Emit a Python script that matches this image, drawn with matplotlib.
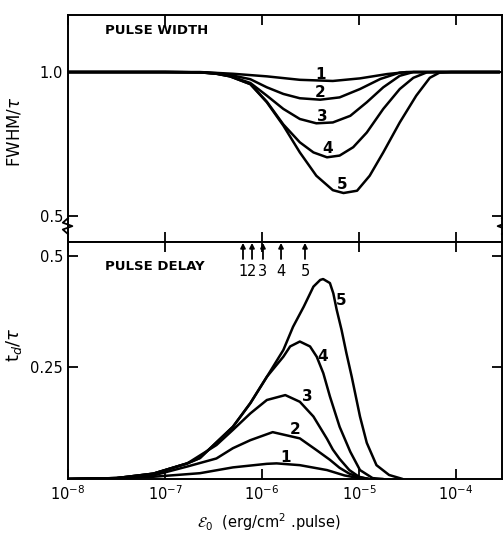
import numpy as np
import matplotlib
matplotlib.use("Agg")
import matplotlib.pyplot as plt

# ---------------- data (log10 of energy fluence, value) ----------------
# Upper panel: FWHM / tau
w_logx_1 = [-8.0, -7.0, -6.64, -6.30, -5.95, -5.61, -5.27, -4.99, -4.71, -4.51, -3.55]
w_val_1 = [1.0, 1.0, 1.0, 0.994, 0.985, 0.973, 0.969, 0.978, 0.993, 1.0, 1.0]

w_logx_2 = [-8.0, -7.0, -6.64, -6.47, -6.33, -6.12, -5.95, -5.78, -5.61, -5.40, -5.20, -4.99, -4.78, -4.58, -4.45, -3.55]
w_val_2 = [1.0, 1.0, 0.999, 0.996, 0.99, 0.975, 0.947, 0.924, 0.909, 0.904, 0.912, 0.941, 0.976, 0.998, 1.0, 1.0]

w_logx_3 = [-8.0, -7.0, -6.64, -6.47, -6.33, -6.12, -5.95, -5.78, -5.61, -5.44, -5.27, -5.09, -4.92, -4.75, -4.58, -4.44, -3.55]
w_val_3 = [1.0, 1.0, 0.999, 0.995, 0.986, 0.962, 0.918, 0.872, 0.837, 0.822, 0.825, 0.848, 0.895, 0.947, 0.987, 1.0, 1.0]

w_logx_4 = [-8.0, -7.0, -6.64, -6.47, -6.33, -6.12, -5.95, -5.78, -5.61, -5.47, -5.33, -5.20, -5.06, -4.92, -4.75, -4.58, -4.44, -4.30, -4.2, -3.55]
w_val_4 = [1.0, 1.0, 0.999, 0.994, 0.985, 0.958, 0.897, 0.818, 0.756, 0.721, 0.704, 0.71, 0.739, 0.79, 0.872, 0.941, 0.98, 0.999, 1.0, 1.0]

w_logx_5 = [-8.0, -7.0, -6.64, -6.47, -6.33, -6.12, -5.95, -5.78, -5.61, -5.44, -5.27, -5.16, -5.02, -4.89, -4.75, -4.58, -4.41, -4.27, -4.17, -4.05, -3.55]
w_val_5 = [1.0, 1.0, 0.999, 0.994, 0.985, 0.958, 0.895, 0.814, 0.721, 0.64, 0.59, 0.58, 0.588, 0.64, 0.721, 0.825, 0.918, 0.98, 0.998, 1.0, 1.0]

# Lower panel: t_d / tau
d_logx_1 = [-8.0, -7.5, -7.12, -6.64, -6.30, -5.95, -5.85, -5.61, -5.33, -5.15, -5.0, -4.9]
d_val_1 = [0.0, 0.002, 0.005, 0.013, 0.026, 0.034, 0.035, 0.031, 0.02, 0.008, 0.002, 0.0]

d_logx_2 = [-8.0, -7.5, -7.12, -6.77, -6.47, -6.30, -6.12, -5.89, -5.61, -5.44, -5.30, -5.20, -5.10, -5.0, -4.9]
d_val_2 = [0.0, 0.002, 0.008, 0.028, 0.046, 0.069, 0.087, 0.105, 0.091, 0.065, 0.043, 0.025, 0.012, 0.004, 0.0]

d_logx_3 = [-8.0, -7.5, -7.12, -6.77, -6.47, -6.30, -6.12, -5.95, -5.76, -5.61, -5.47, -5.40, -5.33, -5.27, -5.20, -5.10, -5.0, -4.9]
d_val_3 = [0.0, 0.002, 0.012, 0.035, 0.076, 0.11, 0.147, 0.177, 0.188, 0.173, 0.14, 0.115, 0.09, 0.066, 0.045, 0.02, 0.005, 0.0]

d_logx_4 = [-8.0, -7.5, -7.12, -6.77, -6.64, -6.30, -6.12, -5.95, -5.78, -5.71, -5.61, -5.505, -5.436, -5.368, -5.30, -5.20, -5.09, -4.99, -4.86, -4.75]
d_val_4 = [0.0, 0.002, 0.012, 0.035, 0.047, 0.117, 0.170, 0.229, 0.274, 0.297, 0.308, 0.297, 0.274, 0.237, 0.185, 0.117, 0.061, 0.02, 0.002, 0.0]

d_logx_5 = [-8.0, -7.5, -7.12, -6.77, -6.64, -6.30, -6.12, -5.95, -5.78, -5.68, -5.57, -5.47, -5.40, -5.37, -5.30, -5.265, -5.23, -5.18, -5.13, -5.075, -4.99, -4.92, -4.82, -4.69, -4.55]
d_val_5 = [0.0, 0.002, 0.012, 0.035, 0.047, 0.117, 0.170, 0.229, 0.289, 0.341, 0.386, 0.431, 0.446, 0.448, 0.439, 0.416, 0.379, 0.334, 0.282, 0.229, 0.14, 0.081, 0.031, 0.009, 0.0]

# threshold arrows (log10 positions) and their labels
arrow_logx = [-6.196, -6.103, -5.99, -5.804, -5.557]
arrow_labels = ["1", "2", "3", "4", "5"]

# curve label positions (log10 x, value)
w_label_logx = [-5.40, -5.40, -5.38, -5.32, -5.17]
w_label_val = [0.99, 0.93, 0.847, 0.735, 0.61]
d_label_logx = [-5.76, -5.66, -5.53, -5.38, -5.18]
d_label_val = [0.049, 0.112, 0.184, 0.274, 0.401]

x_ticks = [1e-8, 1e-7, 1e-6, 1e-5, 1e-4]
x_ticklabels = [r"$10^{-8}$", r"$10^{-7}$", r"$10^{-6}$", r"$10^{-5}$", r"$10^{-4}$"]

# ---------------- figure ----------------
plt.rcParams["font.family"] = ["DejaVu Sans"]
fig = plt.figure(figsize=(5.03, 5.33), dpi=100)
L, R = 68 / 503, 502 / 503
top_up, mid, bot = 1 - 15 / 533, 1 - 242 / 533, 1 - 479 / 533
ax1 = fig.add_axes([L, mid, R - L, top_up - mid])
ax2 = fig.add_axes([L, bot, R - L, mid - bot])

xlim = (1e-8, 10 ** -3.526)
lw = 1.8
for lx, v in [(w_logx_1, w_val_1), (w_logx_2, w_val_2), (w_logx_3, w_val_3),
              (w_logx_4, w_val_4), (w_logx_5, w_val_5)]:
    ax1.plot(10 ** np.array(lx), v, color="black", lw=lw,
             solid_capstyle="round", solid_joinstyle="round")
for lx, v in [(d_logx_1, d_val_1), (d_logx_2, d_val_2), (d_logx_3, d_val_3),
              (d_logx_4, d_val_4), (d_logx_5, d_val_5)]:
    ax2.plot(10 ** np.array(lx), v, color="black", lw=lw,
             solid_capstyle="round", solid_joinstyle="round")

for ax in (ax1, ax2):
    ax.set_xscale("log")
    ax.set_xlim(*xlim)
    ax.set_xticks(x_ticks)
    ax.minorticks_off()
    ax.tick_params(axis="both", which="major", direction="in", length=7, width=1.3,
                   top=True, right=True, labelsize=10.5)
    for s in ax.spines.values():
        s.set_linewidth(1.4)

ax1.set_ylim(0.41, 1.198)
ax1.set_yticks([0.5, 1.0])
ax1.set_yticklabels(["0.5", "1.0"])
ax1.tick_params(axis="x", labelbottom=False, bottom=True)
ax1.set_ylabel(r"FWHM/$\tau$", fontsize=12)
ax1.yaxis.set_label_coords(-0.102, 0.485)

ax2.set_ylim(0.0, 0.531)
ax2.set_yticks([0.25, 0.5])
ax2.set_yticklabels(["0.25", "0.5"])
ax2.set_xticklabels(x_ticklabels)
ax2.tick_params(axis="x", which="major", pad=4)
ax2.set_ylabel(r"t$_d$/$\tau$", fontsize=13)
ax2.yaxis.set_label_coords(-0.102, 0.565)
ax2.set_xlabel(r"$\mathcal{E}_0$  (erg/cm$^2$ .pulse)", fontsize=10.5)
ax2.xaxis.set_label_coords(0.463, -0.135)

ax1.text(0.085, 0.93, "PULSE WIDTH", transform=ax1.transAxes, fontsize=9.5,
         fontweight="bold", va="center", ha="left")
ax2.text(0.085, 0.895, "PULSE DELAY", transform=ax2.transAxes, fontsize=9.5,
         fontweight="bold", va="center", ha="left")

for lx, v, t in zip(w_label_logx, w_label_val, arrow_labels):
    ax1.text(10 ** lx, v, t, fontsize=11, fontweight="bold", ha="center", va="center")
for lx, v, t in zip(d_label_logx, d_label_val, arrow_labels):
    ax2.text(10 ** lx, v, t, fontsize=11, fontweight="bold", ha="center", va="center")

for lx, t in zip(arrow_logx, arrow_labels):
    ax2.annotate("", xy=(10 ** lx, 0.529), xytext=(10 ** lx, 0.493),
                 arrowprops=dict(arrowstyle="-|>", color="black", lw=1.3,
                                 mutation_scale=7, shrinkA=0, shrinkB=0))
    ax2.text(10 ** lx, 0.466, t, fontsize=10.5, ha="center", va="center")

# axis-break zigzags on the upper panel spines
zx = [0.0, -0.012, 0.010, -0.012, 0.0]
zy = [0.105, 0.085, 0.070, 0.055, 0.035]
ax1.plot(zx, zy, transform=ax1.transAxes, color="black", lw=1.3, clip_on=False)
ax1.plot([1 - v for v in zx], zy, transform=ax1.transAxes, color="black", lw=1.3, clip_on=False)

fig.savefig("out.png", dpi=100)
